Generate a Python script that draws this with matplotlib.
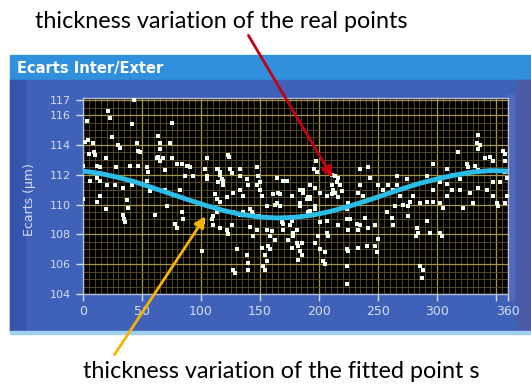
import numpy as np
import matplotlib
matplotlib.use('Agg')
import matplotlib.pyplot as plt
from matplotlib.patches import Rectangle, FancyArrowPatch
from matplotlib.ticker import MultipleLocator

# mesures brutes (angle en degres, ecart en um)
angle_pts = [
    0, 0, 1.7, 3, 4.5, 8.7, 5, 9, 10.5, 11.6, 14.4, 5.9, 11.6, 14.4, 11.6, 14.4,
    19.8, 21.4, 22.9, 24.3, 20, 27.1, 34.1, 41.2, 28, 40, 46.8, 54, 55.3, 29.9,
    31.3, 41.2, 43.5, 45.5, 46.8, 48.3, 37, 38.4, 19.5, 33.6, 34.7, 35.6, 49.7,
    54, 56.7, 61, 62.4, 63.8, 65.2, 68, 63.8, 65.5, 65.2, 69.5, 69.5, 70.9, 73.7,
    75, 75.1, 78, 79.3, 79.4, 83.6, 82.2, 83.6, 84.4, 86.4, 87.8, 89.2, 90.6, 93.4,
    100.5, 101.9, 103.3, 104.8, 104.8, 104.8, 109, 110.4, 110.4, 113.2, 111.8,
    113.2, 116, 113.2, 114.6, 116, 114.6, 116, 117.5, 118.8, 118.9, 116, 121.7,
    123.1, 126, 121.7, 123.1, 124, 124.5, 126, 127.3, 127.3, 127.3, 128.7, 130.1,
    133, 133, 138.7, 140, 133, 135.8, 133, 135.8, 138.7, 140, 140, 141.5, 144.3,
    147.1, 141.5, 142.8, 148.5, 144.3, 147.1, 148.5, 147.5, 150, 149.9, 151.4,
    151.5, 154.2, 152.7, 154.2, 157, 158.4, 155.6, 155.5, 155.6, 159.8, 162.6,
    158.4,
    161.2, 164, 169.7, 165.5, 172.5, 166.9, 162.6, 166.9, 164, 168.3, 169.7, 169.7,
    175.3, 181, 173.9, 178.1, 185.2, 176.8, 176.8, 178.1, 180.9, 182.4, 183.8,
    185.2, 182.4, 183.8, 192.3, 196.5, 192.3, 176.8, 183.8, 189.5, 192.3, 190.9,
    185.2, 186.6, 192.3, 196.5, 183.8, 186.6, 190.9, 200.7, 206.4, 196.5, 197,
    195.5, 198, 200.7, 207.8, 200.7, 205, 203.6, 205, 199.3, 196.5, 206.4, 206.4,
    210.6, 213.5, 216.3, 214.9, 210.6, 217.7, 212, 219.1, 213.5, 210.6, 216.3,
    216.3,
    223.3, 224.7, 223.3, 224.7, 226.2, 231.8, 234.6, 233.2, 223.3, 224.7, 223.3,
    223.9, 233.2, 240.2, 247.3, 248.7, 238.8, 241.7, 247.3, 250.1, 234.6, 241.7,
    243.1, 234.6, 233.2, 237.4, 250.1, 254.3, 258.6, 262.8, 265.6, 265.6, 257.2,
    261.4, 262.3, 264.3, 271.3, 275.5, 275.5, 274.1, 279.7, 277, 268.5,
    282.6, 284, 282, 285.5, 288.3, 286.8, 291.1, 293.9, 302.4, 303.8, 285.5, 291.1,
    296.7, 302.4, 305.2, 291.1, 302.4, 296.7, 308, 312.2, 308, 296.7, 308, 313.6,
    319.3, 317.9, 319.3, 327.8, 334.8, 341.9, 347.5, 353.2, 322.1, 330.6, 324.9,
    326.3, 332, 334.8, 334.8, 333.4, 336.3, 334.8, 356, 357.4, 344.7, 340.5, 347.5,
    357.4, 357.4, 358.8, 347.5, 350.4, 357.4, 358.8, 351.7,
]
ecart_pts = [
    112.6, 110.4, 114.2, 115.6, 114.3, 114.1, 113.4, 113.5, 113.3, 112.6, 112.5,
    111.6, 111.8, 111.6, 110.2, 110.6,
    113.1, 116.3, 115.8, 114.5, 111.3, 111.3, 111.1, 111.3, 112.5, 112.6, 112.6,
    112.5, 112.2, 114.0,
    113.8, 115.4, 117.0, 114.1, 113.6, 113.5, 110.3, 109.8, 109.7, 109.3, 109.0,
    108.8, 111.4,
    111.6, 110.9, 109.3, 113.1, 113.2, 112.9, 113.1, 114.6, 114.1, 113.7, 112.3,
    111.0, 109.9, 114.1,
    115.5, 113.1, 108.7, 108.4, 112.7, 112.7, 111.0, 109.5, 109.0, 111.9, 112.6,
    112.6, 112.5, 111.9,
    106.9, 108.8, 112.4, 111.9, 113.1, 111.7, 109.0, 108.6, 109.2, 109.5, 110.7,
    110.4, 110.2, 112.4, 112.4, 112.2, 111.5, 112.0, 111.7, 111.6, 111.3, 108.4,
    108.3,
    108.0, 108.6, 110.5, 113.3, 113.2, 112.4, 112.1, 110.8, 109.5, 105.6, 105.4,
    107.0,
    112.4, 111.9, 111.7, 111.3, 111.0, 110.6, 109.3, 109.5, 106.6, 106.1, 105.6,
    108.5, 107.9,
    108.3, 109.7, 109.5, 109.2, 109.3, 112.5, 111.9, 111.3, 111.5, 111.0, 110.6,
    107.1, 106.6, 105.9, 105.6, 107.2, 107.0, 106.2, 109.9, 108.3, 108.2, 107.6,
    107.9,
    110.7, 111.8, 111.6, 110.8, 111.6, 110.7, 110.0, 109.9, 110.1, 108.8, 108.7,
    108.3,
    108.6, 108.3, 107.6, 107.9, 107.4, 107.1, 108.9, 108.1, 107.4, 107.2, 106.9,
    106.6, 106.3, 109.9, 109.6, 109.9, 110.4, 110.6, 110.1, 110.4, 110.5, 109.5,
    109.2, 111.0, 111.3, 111.1, 111.0, 110.8, 110.5, 110.8, 110.6, 109.7, 112.9,
    112.4, 112.2, 108.8, 107.9, 107.0, 106.8, 106.2, 106.0, 107.9, 107.4, 108.9,
    108.1,
    112.0, 111.9, 111.8, 111.5, 111.3, 111.3, 111.0, 110.9, 110.8, 110.7, 110.5,
    108.6,
    109.0, 108.3, 109.7, 110.1, 109.0, 108.7, 108.6, 108.3, 107.0, 106.9, 105.9,
    104.7, 107.1, 107.2, 107.2, 106.8, 109.1, 108.4, 108.6, 107.7, 112.4, 112.5,
    111.8, 111.3, 110.8, 110.6, 111.3, 111.0, 111.3, 111.0, 111.3, 111.9, 109.5,
    109.1, 108.6, 109.9, 110.0, 109.9, 109.2, 111.7, 110.6, 110.2, 110.6,
    108.4, 108.1, 107.9, 105.9, 105.6, 105.1, 108.9, 108.1, 108.1, 107.9, 110.1,
    110.2,
    110.2, 110.1, 109.8, 111.9, 111.5, 111.0, 111.4, 111.0, 110.6, 112.7, 112.4,
    112.0,
    111.7, 113.5, 111.0, 110.8, 111.1, 111.0, 111.5, 111.5, 109.8, 110.1, 112.7,
    112.5, 112.6, 112.3, 114.7, 114.1, 114.0, 113.7, 113.6, 113.4, 113.2, 113.1,
    112.9,
    112.9, 112.2, 111.8, 110.6, 110.1, 110.1, 110.6, 109.9,
]

# courbe ajustee
angle_fit = [0, 15, 30, 45, 60, 75, 90, 105, 120, 135, 150, 165, 180,
             195, 210, 225, 240, 255, 270, 285, 300, 315, 330, 345, 360]
ecart_fit = [112.25, 112.08, 111.82, 111.5, 111.1, 110.7, 110.3, 109.92, 109.58,
             109.32, 109.16, 109.1, 109.15, 109.3, 109.55, 109.88, 110.25, 110.65,
             111.05, 111.42, 111.72, 111.98, 112.18, 112.28, 112.25]

x_ticks = [0, 50, 100, 150, 200, 250, 300, 350, 360]
x_labels = ['0', '50', '100', '150', '200', '250', '300', '', '360']
y_ticks = [104, 106, 108, 110, 112, 114, 116, 117]

W, H = 531, 387
def fx(px):
    return px / W
def fy(py):
    return 1 - py / H

fig = plt.figure(figsize=(W / 100, H / 100), dpi=100)
fig.patch.set_facecolor('white')

def rect(x0, y0, x1, y1, color):
    fig.patches.append(Rectangle((fx(x0), fy(y1)), fx(x1) - fx(x0), fy(y0) - fy(y1),
                                 transform=fig.transFigure, color=color, zorder=-1))

# fond du panneau
rect(10, 55, 531, 80, '#3190de')
rect(10, 80, 531, 331, '#3f62b8')
rect(10, 80, 25, 331, '#3455ab')
rect(517, 80, 531, 331, '#4a5aa6')
rect(508, 95, 514, 300, '#5568bc')
rect(10, 331, 531, 334, '#9fd0f0')

fig.text(fx(17), fy(68), 'Ecarts Inter/Exter', color='white', fontsize=10.5,
         fontweight='bold', va='center', ha='left')

ax = fig.add_axes([fx(83), fy(294), fx(508) - fx(83), fy(98) - fy(294)])
ax.set_facecolor('black')
ax.set_xlim(0, 360)
ax.set_ylim(104, 117.15)

ax.xaxis.set_minor_locator(MultipleLocator(5))
ax.yaxis.set_minor_locator(MultipleLocator(0.5))
ax.grid(which='minor', color='#5e5228', lw=0.6)
ax.grid(which='major', color='#a89448', lw=0.9)
ax.set_axisbelow(True)

ax.set_xticks(x_ticks)
ax.set_xticklabels(x_labels)
ax.set_yticks(y_ticks)
ax.tick_params(axis='both', which='major', colors='#d4dcf4', length=5, width=1,
               direction='out')
ax.tick_params(axis='x', labelsize=9, pad=3)
ax.tick_params(axis='y', labelsize=8, pad=4)
ax.tick_params(which='minor', length=0)
for s in ax.spines.values():
    s.set_color('#b4bcd8')
    s.set_linewidth(1)

ax.plot(angle_pts, ecart_pts, 's', color='#f2fff2', markersize=2.7,
        markeredgewidth=0, zorder=3)
ax.plot(angle_fit, ecart_fit, color='#2cbce8', lw=3.5, zorder=4, solid_capstyle='butt')

fig.text(fx(30), fy(200), 'Ecarts (µm)', rotation=90, color='#d4dcf4', fontsize=9,
         va='center', ha='center')

# annotations
fig.text(fx(35), fy(21), 'thickness variation of the real points', fontsize=16.8,
         family='Lato', va='center', ha='left', color='black')
fig.text(fx(83), fy(371), 'thickness variation of the fitted point s', fontsize=16.8,
         family='Lato', va='center', ha='left', color='black')

fig.patches.append(FancyArrowPatch((fx(247), fy(33)), (fx(334), fy(180)),
                                   transform=fig.transFigure, arrowstyle='-|>',
                                   mutation_scale=16, lw=2, color='#c40012', zorder=10))
fig.patches.append(FancyArrowPatch((fx(113), fy(357)), (fx(207), fy(214)),
                                   transform=fig.transFigure, arrowstyle='-|>',
                                   mutation_scale=16, lw=2, color='#f6b400', zorder=10))

fig.savefig('out.png', dpi=100)
